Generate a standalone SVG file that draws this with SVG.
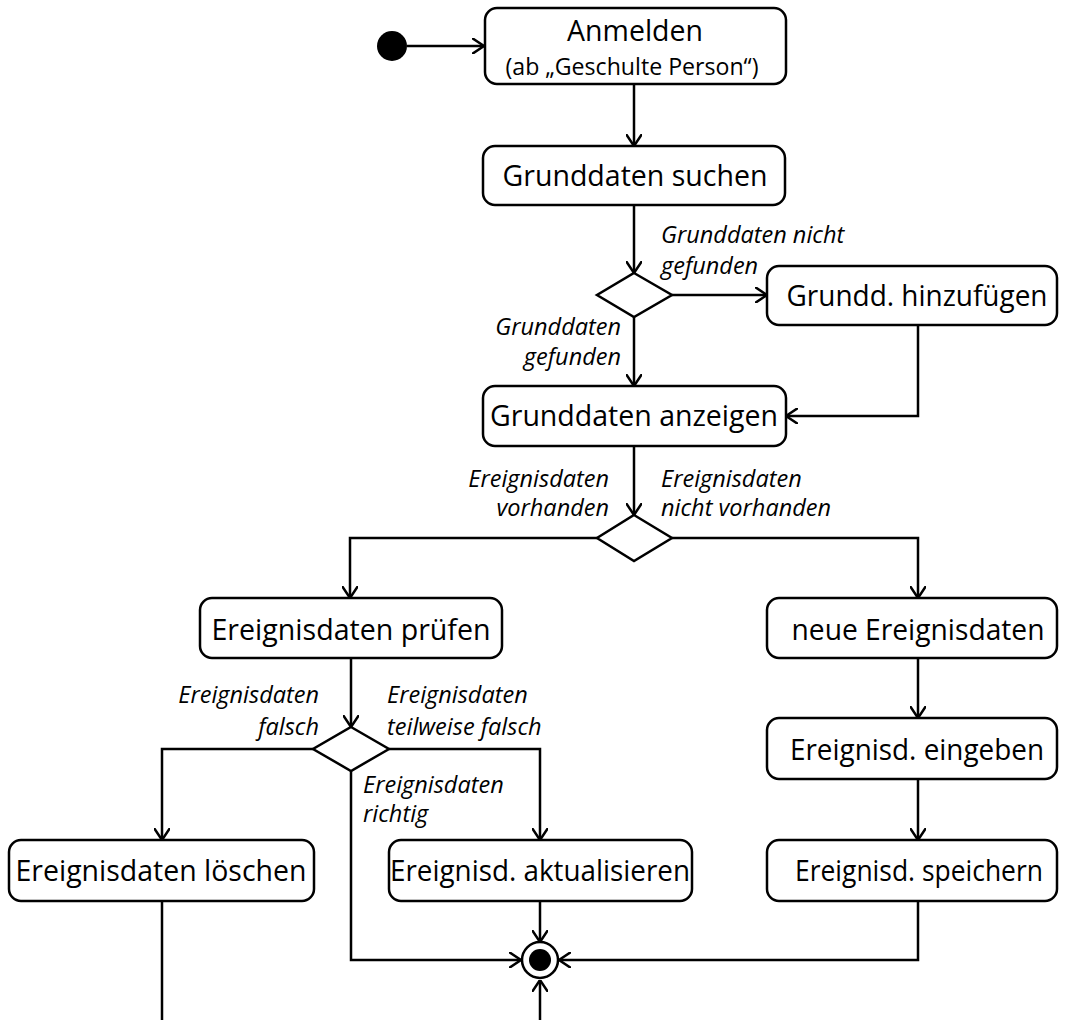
<svg xmlns="http://www.w3.org/2000/svg" width="1065" height="1020" viewBox="0 0 1065 1020">
<style>
.box{fill:#fff;stroke:#000;stroke-width:2.5}
.dia{fill:#fff;stroke:#000;stroke-width:2.5}
.t{font-family:"Open Sans","Noto Sans",sans-serif;font-size:29px;text-anchor:middle;fill:#000}
.s{font-family:"Open Sans","Noto Sans",sans-serif;font-size:23px;text-anchor:middle;fill:#000}
.l{font-family:"Open Sans","Noto Sans",sans-serif;font-size:23.5px;font-style:italic;fill:#000}
.e{text-anchor:end}
#edges path{fill:none;stroke:#000;stroke-width:2.5}
.a{marker-end:url(#arr)}
</style>
<defs>
<marker id="arr" viewBox="0 0 12 16" refX="12" refY="8" markerWidth="12" markerHeight="16" markerUnits="userSpaceOnUse" orient="auto">
<path d="M0,0 L12,8 L0,16" fill="none" stroke="#000" stroke-width="2.5"/>
</marker>
</defs>
<rect width="1065" height="1020" fill="#fff"/>
<g id="edges">
<path class="a" d="M407,46 H484"/>
<path class="a" d="M634,84 V146"/>
<path class="a" d="M634,205 V273"/>
<path class="a" d="M672,295 H767"/>
<path class="a" d="M634,317 V386"/>
<path class="a" d="M918,325 V416 H786"/>
<path class="a" d="M634,446 V515"/>
<path class="a" d="M597,538 H350 V598"/>
<path class="a" d="M672,538 H918 V598"/>
<path class="a" d="M351,658 V727"/>
<path class="a" d="M313,749 H162 V840"/>
<path class="a" d="M389,749 H540 V840"/>
<path class="a" d="M351,771 V960 H521"/>
<path class="a" d="M540,901 V942"/>
<path class="a" d="M918,901 V960 H559"/>
<path class="a" d="M540,1020 V980"/>
<path d="M162,901 V1020"/>
<path class="a" d="M918,658 V718"/>
<path class="a" d="M918,779 V840"/>
<text class="l" x="661" y="243">Grunddaten nicht</text>
<text class="l" x="661" y="274">gefunden</text>
<text class="l e" x="621" y="335">Grunddaten</text>
<text class="l e" x="621" y="365">gefunden</text>
<text class="l e" x="609" y="487">Ereignisdaten</text>
<text class="l e" x="609" y="516">vorhanden</text>
<text class="l" x="661" y="487">Ereignisdaten</text>
<text class="l" x="661" y="516">nicht vorhanden</text>
<text class="l e" x="319" y="703">Ereignisdaten</text>
<text class="l e" x="319" y="735">falsch</text>
<text class="l" x="387" y="703">Ereignisdaten</text>
<text class="l" x="387" y="735">teilweise falsch</text>
<text class="l" x="363" y="793">Ereignisdaten</text>
<text class="l" x="363" y="822">richtig</text>
</g>
<g id="start"><circle cx="392" cy="46" r="15" fill="#000"/></g>
<g id="anmelden"><rect class="box" x="485" y="8" width="301" height="76" rx="12"/><text class="t" x="635" y="41" textLength="136" lengthAdjust="spacingAndGlyphs">Anmelden</text><text class="s" x="632" y="75" textLength="253" lengthAdjust="spacingAndGlyphs">(ab „Geschulte Person“)</text></g>
<g id="suchen"><rect class="box" x="483" y="146" width="302" height="59" rx="12"/><text class="t" x="635" y="186" textLength="265" lengthAdjust="spacingAndGlyphs">Grunddaten suchen</text></g>
<g id="d1"><path class="dia" d="M634,273 L672,295 L634,317 L597,295 Z"/></g>
<g id="hinzufuegen"><rect class="box" x="767" y="266" width="290" height="59" rx="12"/><text class="t" x="917" y="306" textLength="261" lengthAdjust="spacingAndGlyphs">Grundd. hinzufügen</text></g>
<g id="anzeigen"><rect class="box" x="483" y="386" width="303" height="60" rx="12"/><text class="t" x="634" y="426" textLength="288" lengthAdjust="spacingAndGlyphs">Grunddaten anzeigen</text></g>
<g id="d2"><path class="dia" d="M634,515 L672,538 L634,561 L597,538 Z"/></g>
<g id="pruefen"><rect class="box" x="200" y="598" width="302" height="60" rx="12"/><text class="t" x="351" y="640" textLength="279" lengthAdjust="spacingAndGlyphs">Ereignisdaten prüfen</text></g>
<g id="neue"><rect class="box" x="767" y="598" width="290" height="60" rx="12"/><text class="t" x="918" y="640" textLength="253" lengthAdjust="spacingAndGlyphs">neue Ereignisdaten</text></g>
<g id="d3"><path class="dia" d="M351,727 L389,749 L351,771 L313,749 Z"/></g>
<g id="eingeben"><rect class="box" x="767" y="718" width="290" height="61" rx="12"/><text class="t" x="917" y="760" textLength="254" lengthAdjust="spacingAndGlyphs">Ereignisd. eingeben</text></g>
<g id="loeschen"><rect class="box" x="9" y="840" width="305" height="61" rx="12"/><text class="t" x="161" y="881" textLength="291" lengthAdjust="spacingAndGlyphs">Ereignisdaten löschen</text></g>
<g id="aktualisieren"><rect class="box" x="389" y="840" width="303" height="61" rx="12"/><text class="t" x="540" y="881" textLength="300" lengthAdjust="spacingAndGlyphs">Ereignisd. aktualisieren</text></g>
<g id="speichern"><rect class="box" x="767" y="840" width="290" height="61" rx="12"/><text class="t" x="919" y="881" textLength="248" lengthAdjust="spacingAndGlyphs">Ereignisd. speichern</text></g>
<g id="end"><circle cx="540" cy="960" r="18" fill="#fff" stroke="#000" stroke-width="2.5"/><circle cx="540" cy="960" r="11" fill="#000"/></g>
</svg>
